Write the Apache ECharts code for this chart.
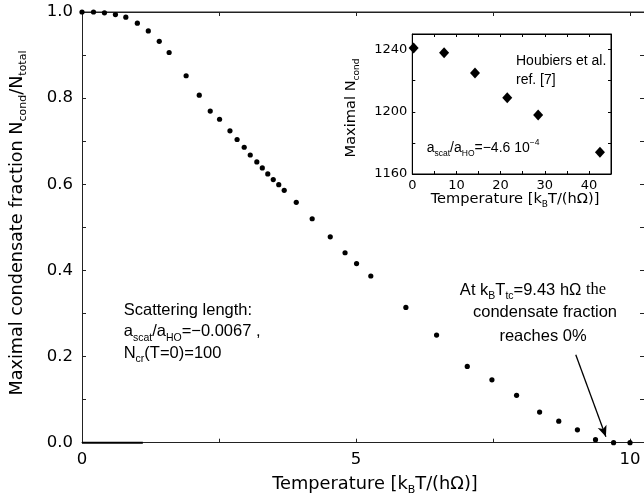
<!DOCTYPE html>
<html>
<head>
<meta charset="utf-8">
<script src="https://cdn.jsdelivr.net/npm/echarts@6/dist/echarts.min.js"></script>
<style>html,body{margin:0;padding:0;background:#fff}#c{width:644px;height:498px}</style>
</head>
<body>
<div id="c"></div>
<script>
// Main plot: condensate fraction vs temperature
const mainTemp = [0, 0.21, 0.41, 0.61, 0.80, 1.01, 1.21, 1.41, 1.59, 1.90, 2.14, 2.34, 2.51, 2.70, 2.83, 2.96, 3.07, 3.19, 3.29, 3.39, 3.49, 3.59, 3.69, 3.91, 4.20, 4.53, 4.80, 5.01, 5.27, 5.91, 6.47, 7.03, 7.48, 7.93, 8.35, 8.70, 9.04, 9.37, 9.70, 10.0];
const mainFrac = [1.0, 1.0, 0.998, 0.994, 0.988, 0.974, 0.956, 0.932, 0.906, 0.852, 0.807, 0.770, 0.751, 0.724, 0.704, 0.686, 0.668, 0.652, 0.638, 0.624, 0.611, 0.599, 0.586, 0.558, 0.520, 0.478, 0.441, 0.416, 0.387, 0.314, 0.250, 0.177, 0.146, 0.110, 0.071, 0.050, 0.030, 0.007, 0, 0];
// short zero segment at the start of the x axis
const zeroSegX = [0, 1.11];
const zeroSegY = [0, 0];
// top frame of the main plot (x range 0 .. axis max, at y = 1)
const frameX = [0, 10.255];
const frameY = [1, 1];
// Inset: maximal N_cond vs temperature
const insetTemp = [0.3, 7.2, 14.2, 21.5, 28.5, 42.5];
const insetN = [1241, 1238, 1225, 1209, 1198, 1174];
// arrow annotation (data coords)
const arrowFrom = [9.01, 0.204];
const arrowTo = [9.56, 0.014];

const AX = '#222';
const TICKF = 'DejaVu Sans';
const TXTF = 'Liberation Sans';

const chart = echarts.init(document.getElementById('c'), null, {renderer: 'canvas'});

function mainXLabel(v){ return (Math.abs(v % 5) < 1e-6) ? String(v) : ''; }
function mainYLabel(v){ const k = Math.round(v*10); return (k % 2 === 0 && Math.abs(v*10-k)<1e-6) ? v.toFixed(1) : ''; }
function insXLabel(v){ return (Math.abs(v % 10) < 1e-6) ? String(v) : ''; }
function insYLabel(v){ return (Math.abs(v % 40) < 1e-6) ? String(v) : ''; }

const subRich = {
  s: {fontSize: 10.5, verticalAlign: 'bottom', lineHeight: 10, fontFamily: TXTF, padding:[0,0,-3,0]}
};
const subRichBig = {
  s: {fontSize: 11, verticalAlign: 'bottom', lineHeight: 10, fontFamily: TICKF, padding:[0,0,-3,0]}
};
const subRichSm = {
  s: {fontSize: 9, verticalAlign: 'bottom', lineHeight: 8, fontFamily: TICKF, padding:[0,0,-3,0]}
};

function mkAxisLine(color){ return {show: true, onZero: false, lineStyle: {color: color, width: 1}}; }

const option = {
  animation: false,
  backgroundColor: '#fff',
  grid: [
    {left: 82, top: 12, right: 0, bottom: 55.3, show: false, containLabel: false, outerBoundsMode: 'none'},
    {left: 412.3, top: 34, width: 198.7, height: 140, show: true, backgroundColor: '#fff', borderColor: '#000', borderWidth: 1, z: 5, containLabel: false, outerBoundsMode: 'none'}
  ],
  xAxis: [
    {type: 'value', gridIndex: 0, position: 'bottom', min: 0, max: 10.255, interval: 2.5,
     axisLine: mkAxisLine(AX),
     axisTick: {show: true, inside: true, length: 4, lineStyle: {color: AX}},
     axisLabel: {formatter: mainXLabel, color: '#000', fontFamily: TICKF, fontSize: 16.5, margin: 9, showMaxLabel: false},
     splitLine: {show: false}},
    {type: 'value', gridIndex: 0, position: 'top', min: 0, max: 10.255, interval: 2.5,
     axisLine: mkAxisLine(AX),
     axisTick: {show: true, inside: true, length: 4, lineStyle: {color: AX}},
     axisLabel: {show: false}, splitLine: {show: false}},
    {type: 'value', gridIndex: 1, position: 'bottom', min: 0, max: 45, interval: 5,
     axisLine: mkAxisLine('#000'),
     axisTick: {show: true, inside: true, length: 3, lineStyle: {color: '#000'}},
     axisLabel: {formatter: insXLabel, color: '#000', fontFamily: TICKF, fontSize: 13, margin: 5},
     splitLine: {show: false}, z: 6},
    {type: 'value', gridIndex: 1, position: 'top', min: 0, max: 45, interval: 5,
     axisLine: mkAxisLine('#000'),
     axisTick: {show: true, inside: true, length: 3, lineStyle: {color: '#000'}},
     axisLabel: {show: false}, splitLine: {show: false}, z: 6}
  ],
  yAxis: [
    {type: 'value', gridIndex: 0, position: 'left', min: 0, max: 1, interval: 0.1,
     axisLine: mkAxisLine(AX),
     axisTick: {show: true, inside: true, length: 4, lineStyle: {color: AX}},
     axisLabel: {formatter: mainYLabel, color: '#000', fontFamily: TICKF, fontSize: 16.5, margin: 9},
     splitLine: {show: false}},
    {type: 'value', gridIndex: 0, position: 'right', min: 0, max: 1, interval: 0.1,
     axisLine: {show: false, onZero: false},
     axisTick: {show: true, inside: true, length: 4, lineStyle: {color: AX}},
     axisLabel: {show: false}, splitLine: {show: false}},
    {type: 'value', gridIndex: 1, position: 'left', min: 1160, max: 1250, interval: 20,
     axisLine: mkAxisLine('#000'),
     axisTick: {show: true, inside: true, length: 3, lineStyle: {color: '#000'}},
     axisLabel: {formatter: insYLabel, color: '#000', fontFamily: TICKF, fontSize: 13, margin: 5},
     splitLine: {show: false}, z: 6},
    {type: 'value', gridIndex: 1, position: 'right', min: 1160, max: 1250, interval: 20,
     axisLine: mkAxisLine('#000'),
     axisTick: {show: true, inside: true, length: 3, lineStyle: {color: '#000'}},
     axisLabel: {show: false}, splitLine: {show: false}, z: 6}
  ],
  series: [
    {type: 'line', xAxisIndex: 0, yAxisIndex: 0, data: frameX.map((x,i)=>[x, frameY[i]]),
     symbol: 'none', clip: false, silent: true, lineStyle: {color: AX, width: 1}, z: 2},
    {type: 'line', xAxisIndex: 0, yAxisIndex: 0, data: zeroSegX.map((x,i)=>[x, zeroSegY[i]]),
     symbol: 'none', clip: false, lineStyle: {color: '#000', width: 2}, z: 3},
    {type: 'scatter', xAxisIndex: 0, yAxisIndex: 0, data: mainTemp.map((x,i)=>[x, mainFrac[i]]),
     symbol: 'circle', symbolSize: 5.2, clip: false, itemStyle: {color: '#000', opacity: 1}, z: 4,
     markLine: {silent: true, symbol: ['none', 'arrow'], symbolSize: [7, 11],
       lineStyle: {color: '#000', width: 1.3, type: 'solid', opacity: 1}, label: {show: false},
       data: [[{coord: arrowFrom}, {coord: arrowTo}]]}},
    {type: 'scatter', xAxisIndex: 1, yAxisIndex: 1, data: [], silent: true},
    {type: 'scatter', xAxisIndex: 2, yAxisIndex: 2, data: insetTemp.map((x,i)=>[x, insetN[i]]),
     symbol: 'diamond', symbolSize: [10, 11], itemStyle: {color: '#000', opacity: 1}, z: 7},
    {type: 'scatter', xAxisIndex: 3, yAxisIndex: 3, data: [], silent: true}
  ],
  graphic: [
    // main axis titles
    {type: 'text', x: 375, y: 484, z: 10, style: {
      text: 'Temperature [k{s|B}T/(hΩ)]', fontFamily: TICKF, fontSize: 17.8, fill: '#000',
      align: 'center', verticalAlign: 'middle', rich: subRichBig}},
    {type: 'text', x: 17, y: 223, rotation: Math.PI/2, z: 10, style: {
      text: 'Maximal condensate fraction N{s|cond}/N{s|total}', fontFamily: TICKF, fontSize: 17.6, fill: '#000',
      align: 'center', verticalAlign: 'middle', rich: subRichBig}},
    // inset axis titles
    {type: 'text', x: 515, y: 199, z: 10, style: {
      text: 'Temperature [k{s|B}T/(hΩ)]', fontFamily: TICKF, fontSize: 14.6, fill: '#000',
      align: 'center', verticalAlign: 'middle', rich: subRichSm}},
    {type: 'text', x: 351, y: 108, rotation: Math.PI/2, z: 10, style: {
      text: 'Maximal N{s|cond}', fontFamily: TICKF, fontSize: 14.6, fill: '#000',
      align: 'center', verticalAlign: 'middle', rich: subRichSm}},
    // inset annotations
    {type: 'text', x: 516, y: 61, z: 10, style: {text: 'Houbiers et al.', fontFamily: TXTF, fontSize: 14, fill: '#000', align: 'left', verticalAlign: 'middle'}},
    {type: 'text', x: 516, y: 80, z: 10, style: {text: 'ref. [7]', fontFamily: TXTF, fontSize: 14, fill: '#000', align: 'left', verticalAlign: 'middle'}},
    {type: 'text', x: 426.7, y: 148, z: 10, style: {
      text: 'a{s|scat}/a{s|HO}=−4.6 10{p|−4}', fontFamily: TXTF, fontSize: 14, fill: '#000', align: 'left', verticalAlign: 'middle',
      rich: {s:{fontSize: 8.5, verticalAlign:'bottom', lineHeight: 8, fontFamily: TXTF, padding:[0,0,-3,0]},
             p:{fontSize: 8.5, verticalAlign:'top', lineHeight: 8, fontFamily: TXTF, padding:[-3,0,0,0]}}}},
    // main annotations
    {type: 'text', x: 123.7, y: 310, z: 10, style: {text: 'Scattering length:', fontFamily: TXTF, fontSize: 16.5, fill: '#000', align: 'left', verticalAlign: 'middle'}},
    {type: 'text', x: 123.7, y: 331.7, z: 10, style: {text: 'a{s|scat}/a{s|HO}=−0.0067 ,', fontFamily: TXTF, fontSize: 16.5, fill: '#000', align: 'left', verticalAlign: 'middle', rich: subRich}},
    {type: 'text', x: 123.7, y: 353, z: 10, style: {text: 'N{s|cr}(T=0)=100', fontFamily: TXTF, fontSize: 16.5, fill: '#000', align: 'left', verticalAlign: 'middle', rich: subRich}},
    {type: 'text', x: 533, y: 290, z: 10, style: {text: 'At k{s|B}T{s|tc}=9.43 hΩ {t|the}', fontFamily: TXTF, fontSize: 16.5, fill: '#000', align: 'center', verticalAlign: 'middle',
      rich: {s: subRich.s, t: {fontFamily: 'Liberation Serif', fontSize: 16.5}}}},
    {type: 'text', x: 545, y: 312.7, z: 10, style: {text: 'condensate fraction', fontFamily: TXTF, fontSize: 16.5, fill: '#000', align: 'center', verticalAlign: 'middle'}},
    {type: 'text', x: 543, y: 336.7, z: 10, style: {text: 'reaches 0%', fontFamily: TXTF, fontSize: 16.5, fill: '#000', align: 'center', verticalAlign: 'middle'}}
  ]
};
chart.setOption(option);
</script>
</body>
</html>
